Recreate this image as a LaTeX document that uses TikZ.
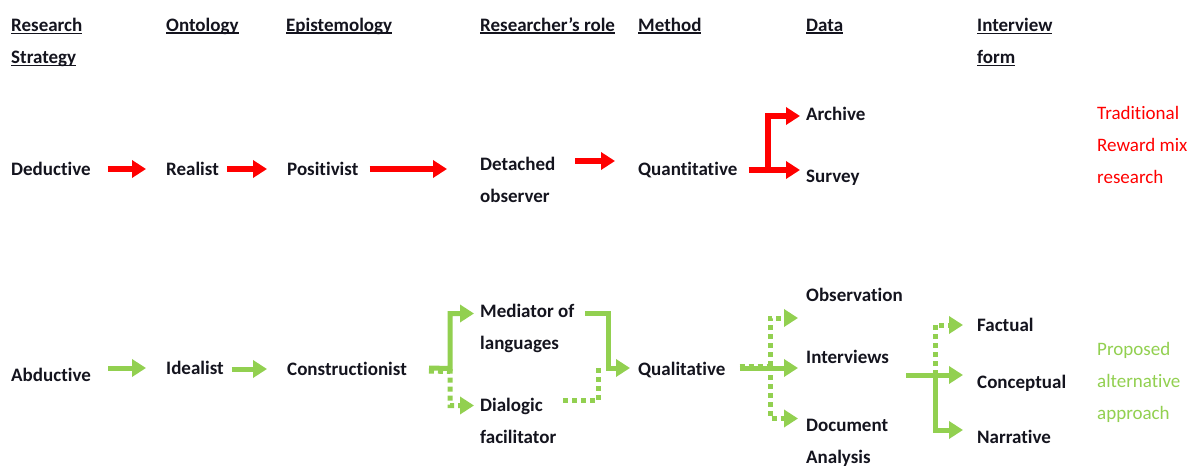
\documentclass[tikz,border=0pt]{standalone}
\usepackage{fontspec}
\setmainfont{Carlito}[RawFeature={-liga}]
\usetikzlibrary{arrows.meta,calc}
\definecolor{arrred}{RGB}{255,0,0}
\definecolor{leaf}{RGB}{146,208,80}
\definecolor{ink}{RGB}{20,20,30}
% underline at a fixed depth, so descenders do not push it down
\newcommand\ulhead[1]{\sbox0{#1}\rlap{\rule[-2.8pt]{\wd0}{1.8pt}}\usebox0}
\begin{document}
\begin{tikzpicture}[x=1pt,y=-1pt,
  every node/.style={inner sep=0pt, text=ink, font=\fontsize{19}{32}\selectfont\bfseries},
  one/.style={anchor=west, text height=12.5pt, text depth=0pt},
  multi/.style={anchor=base west, align=left},
  lightred/.style={text=arrred, font=\fontsize{19}{32}\selectfont},
  lightgreen/.style={text=leaf, font=\fontsize{19}{32}\selectfont},
  rarr/.style={draw=arrred, line width=6pt, -{Triangle[length=14pt,width=17pt]}},
  garr/.style={draw=leaf, line width=5pt, -{Triangle[length=14pt,width=17pt]}},
  gdot/.style={draw=leaf, line width=5pt, dash pattern=on 5pt off 4pt},
  gdotarr/.style={gdot, -{Triangle[length=14pt,width=17pt]}},
]
\fill[white] (0,0) rectangle (1200,466);
\useasboundingbox (0,0) rectangle (1200,466);

% column headings (multi-line nodes sit on the baseline of their last line)
\node[multi] (hrs) at (11,63.5) {\ulhead{Research}\\\ulhead{Strategy}};
\node[one] (hont) at (166,25) {\ulhead{Ontology}};
\node[one] (hepi) at (286,25) {\ulhead{Epistemology}};
\node[one] (hrol) at (480,25) {\ulhead{Researcher’s role}};
\node[one] (hmet) at (638,25) {\ulhead{Method}};
\node[one] (hdat) at (806,25) {\ulhead{Data}};
\node[multi] (hint) at (977,63.5) {\ulhead{Interview}\\\ulhead{form}};

% deductive chain
\node[one] (ded) at (11,169) {Deductive};
\node[one] (rea) at (166,169) {Realist};
\node[one] (pos) at (287,169) {Positivist};
\node[multi] (det) at (480,202.5) {Detached\\observer};
\node[one] (qt) at (638,169) {Quantitative};
\node[one] (arc) at (806,114) {Archive};
\node[one] (sur) at (806,176) {Survey};
\node[multi, lightred] (trad) at (1097,183.5) {Traditional\\Reward mix\\research};

% abductive chain
\node[one] (abd) at (11,375) {Abductive};
\node[one] (ide) at (166,368) {Idealist};
\node[one] (con) at (287,369) {Constructionist};
\node[multi] (med) at (480,349.5) {Mediator of\\languages};
\node[multi] (dia) at (480,443.5) {Dialogic\\facilitator};
\node[one] (ql) at (638,369) {Qualitative};
\node[one] (obs) at (806,295) {Observation};
\node[one] (itv) at (806,357) {Interviews};
\node[multi] (doc) at (806,463.5) {Document\\Analysis};
\node[one] (fac) at (977,325) {Factual};
\node[one] (cnc) at (977,382) {Conceptual};
\node[one] (nar) at (977,437) {Narrative};
\node[multi, lightgreen] (prop) at (1097,419.5) {Proposed\\alternative\\approach};

% red connectors
\draw[rarr] ($(ded.east)+(17,0)$) -- ($(rea.west)+(-20,0)$);
\draw[rarr] ($(rea.east)+(8,0)$) -- ($(pos.west)+(-20,0)$);
\draw[rarr] ($(pos.east)+(11,0)$) -- ($(det.base west |- pos.west)+(-33,0)$);
\draw[rarr] ($(det.base west |- qt.west)+(95,-8)$) -- ($(qt.west)+(-23,-8)$);
\coordinate (qsplit) at ($(sur.west)+(-38,-6)$);
\draw[rarr] ($(qt.east)+(11,1)$) -- ($(sur.west)+(-6,-6)$);
\draw[rarr] ([yshift=-3pt]qsplit) |- ($(arc.west)+(-6,2)$);

% green connectors: first steps
\draw[garr] ($(abd.east |- ide.west)+(17,0)$) -- ($(ide.west)+(-20,0)$);
\draw[garr] ($(ide.east)+(8,1)$) -- ($(con.west)+(-20,0)$);

% constructionist splits to the two researcher roles
\coordinate (cj) at ($(med.base west)+(-30,19)$);
\draw[garr] ($(con.east)+(22,-1)$) -- (cj) |- ($(med.base west)+(-6,-36)$);
\draw[gdotarr] ($(con.east)+(22,2)$) -- ($(cj)+(0,3)$) |- ($(dia.base west)+(-6,-38)$);

% both roles lead to qualitative method
\coordinate (mj) at ($(ql.west)+(-30,-1)$);
\draw[garr] ($(med.base west)+(105,-36)$) -| (mj) -- ($(ql.west)+(-8,-1)$);
\draw[gdot] ($(dia.base west)+(83,-43)$) -| ($(mj)+(-10,-4)$);

% qualitative branches to the data sources
\coordinate (qj) at ($(itv.west)+(-36,9)$);
\draw[garr] ($(ql.east)+(14,-1)$) -- ($(itv.west)+(-8,11)$);
\draw[gdot] ($(ql.east)+(14,-3)$) -- (qj);
\draw[gdotarr] (qj) |- ($(obs.west)+(-8,23)$);
\draw[gdotarr] (qj) |- ($(doc.base west)+(-8,-45)$);

% interviews branch to the interview forms
\coordinate (ij) at ($(cnc.west)+(-42,-7)$);
\draw[garr] ($(itv.east)+(17,18)$) -- ($(cnc.west)+(-14,-7)$);
\draw[garr] (ij) |- ($(nar.west)+(-14,-7)$);
\draw[gdotarr] (ij) |- ($(fac.west)+(-14,0)$);
\end{tikzpicture}
\end{document}
